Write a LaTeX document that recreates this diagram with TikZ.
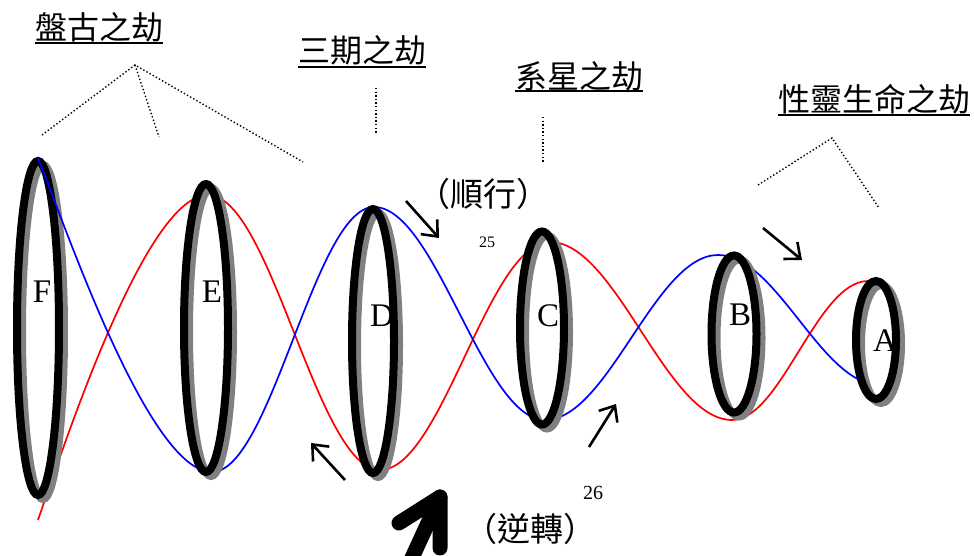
\documentclass[tikz,border=0pt]{standalone}
\usepackage{fontspec}
\setmainfont{Liberation Serif}
\newfontfamily\cjk{Noto Sans CJK TC}
\usetikzlibrary{arrows.meta,shapes.geometric}
\tikzset{
  ringshadow/.style={ellipse, draw=gray, fill=white, line width=8pt, inner sep=0pt},
  ringblack/.style={ellipse, draw=black, line width=8pt, inner sep=0pt},
  wave/.style={line width=1.7pt},
  dots/.style={line width=1.4pt, dash pattern=on 1.4pt off 2.2pt},
  thinarrow/.style={line width=2.6pt, -{Straight Barb[length=13pt,width=22pt]}},
  bigarrow/.style={line width=15pt, line cap=round, line join=round},
  title/.style={font=\cjk\fontsize{32}{32}\selectfont, inner sep=0pt},
  remark/.style={font=\cjk\fontsize{33}{33}\selectfont, inner sep=0pt},
  letter/.style={font=\fontsize{33}{33}\selectfont, inner sep=0pt},
  uline/.style={line width=2.2pt},
}
\newcommand{\myring}[5]{%
  \node[ringshadow, minimum width=#4pt, minimum height=#5pt] (#1s) at (#2+5,#3+4) {};
  \node[ringblack, minimum width=#4pt, minimum height=#5pt] (#1) at (#2,#3) {};
}
\begin{document}
\begin{tikzpicture}[x=1pt,y=-1pt]
\clip (0,0) rectangle (974,556);
\fill[white] (0,0) rectangle (974,556);

% red wave
\draw[wave, red] (38,520) .. controls (66,440) and (146,195) .. (208,195)
  .. controls (271,195) and (317,470) .. (380,470)
  .. controls (442,470) and (488,242) .. (550,242)
  .. controls (616,242) and (666,420) .. (732,420)
  .. controls (781,420) and (817,281) .. (868,281);

% ring F
\myring{F}{38}{328}{42}{334}

% blue wave
\draw[wave, blue] (38,158) .. controls (66,228) and (149,472) .. (212,472)
  .. controls (271,472) and (315,207) .. (374,207)
  .. controls (436,207) and (483,420) .. (545,420)
  .. controls (608,420) and (655,255) .. (718,255)
  .. controls (777,255) and (821,385) .. (880,385);

% other rings
\myring{E}{206}{328}{44}{288}
\myring{D}{373}{341}{42}{264}
\myring{C}{542}{328}{44}{193}
\myring{B}{734}{334}{45}{157}
\myring{A}{876}{340}{40}{118}

% ring letters
\node[letter] (lF) at (42,292) {F};
\node[letter] (lE) at (212,292) {E};
\node[letter] (lD) at (382,316) {D};
\node[letter] (lC) at (548,316) {C};
\node[letter] (lB) at (740,315) {B};
\node[letter] (lA) at (885,341) {A};

% titles
\node[title] (t1) at (99,27) {盤古之劫};
\node[title] (t2) at (362,50) {三期之劫};
\node[title] (t3) at (579,76) {系星之劫};
\node[title] (t4) at (874,99) {性靈生命之劫};
\foreach \t/\yy in {t1/43, t2/67, t3/91, t4/115} {
  \draw[uline] (\t.west |- 0,\yy) -- (\t.east |- 0,\yy);
}

% dotted guide lines
\coordinate (p1) at (135,65);
\coordinate (p1a) at (42,135);
\coordinate (p1b) at (159,137);
\coordinate (p1c) at (303,162);
\draw[dots] (p1a) -- (p1) -- (p1c);
\draw[dots] (p1) -- (p1b);
\coordinate (p2a) at (376,88);
\coordinate (p2b) at (376,133);
\draw[dots] (p2a) -- (p2b);
\coordinate (p3a) at (543,117);
\coordinate (p3b) at (543,162);
\draw[dots] (p3a) -- (p3b);
\coordinate (p4) at (832,138);
\coordinate (p4a) at (758,185);
\coordinate (p4b) at (879,208);
\draw[dots] (p4a) -- (p4) -- (p4b);

% remarks
\node[remark] (r1) at (483,194) {（順行）};
\node[remark] (r2) at (530,529) {（逆轉）};
\node[font=\fontsize{16}{16}\selectfont, inner sep=0pt] (n25) at (487,242) {25};
\node[font=\fontsize{20}{20}\selectfont, inner sep=0pt] (n26) at (593,493) {26};

% thin arrows
\coordinate (a1s) at (406,201); \coordinate (a1e) at (439,238);
\coordinate (a2s) at (763,228); \coordinate (a2e) at (802,260);
\coordinate (a3s) at (345,480); \coordinate (a3e) at (311,443);
\coordinate (a4s) at (589,447); \coordinate (a4e) at (616,404);
\draw[thinarrow] (a1s) -- (a1e);
\draw[thinarrow] (a2s) -- (a2e);
\draw[thinarrow] (a3s) -- (a3e);
\draw[thinarrow] (a4s) -- (a4e);

% big arrow
\coordinate (bt) at (411,560);
\coordinate (bh) at (440,497);
\coordinate (bl) at (399,523);
\coordinate (br) at (440,548);
\draw[bigarrow] (bt) -- (bh);
\draw[bigarrow] (bl) -- (bh) -- (br);
\end{tikzpicture}
\end{document}
